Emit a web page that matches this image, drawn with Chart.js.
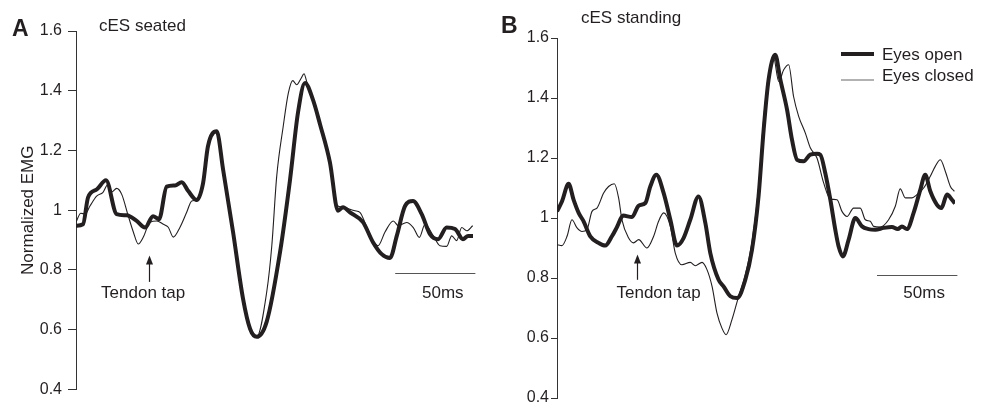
<!DOCTYPE html>
<html>
<head>
<meta charset="utf-8">
<script src="https://cdn.jsdelivr.net/npm/chart.js@4.4.1/dist/chart.umd.min.js"></script>
<style>
  html, body { margin: 0; padding: 0; background: #fff; width: 985px; height: 405px; overflow: hidden; }
  canvas { position: absolute; top: 0; }
</style>
</head>
<body>
<canvas id="chartA" width="480" height="405" style="left:0;width:480px;height:405px"></canvas>
<canvas id="chartB" width="505" height="420" style="left:480px;width:505px;height:420px"></canvas>
<script>
// time in ms after start of trace, values = normalized EMG
const seatedOpenTime = [0, 4.4, 7.6, 13.2, 18.9, 25.6, 31.9, 38.2, 43.5, 48.5, 52.3, 57.1, 62.3, 66.6, 70.7, 76, 80, 83.1, 88.6, 92.6, 98.9, 105.2, 109.6, 113.8, 120.1, 128.5, 134.8, 139.8, 144.2, 149.2, 153.7, 159.9, 165, 168.1, 172.5, 180.7, 187, 192.5, 197.7, 202, 207.2, 212.2, 217.7, 222.9, 228, 233.4, 238.7, 243.7, 246.9, 250];
const seatedOpen = [0.948, 0.953, 1.043, 1.07, 1.10, 0.987, 0.983, 0.964, 0.942, 0.98, 0.97, 1.079, 1.083, 1.094, 1.064, 1.034, 1.09, 1.214, 1.264, 1.137, 0.927, 0.703, 0.603, 0.576, 0.627, 0.86, 1.103, 1.327, 1.426, 1.37, 1.287, 1.16, 0.998, 1.01, 0.993, 0.96, 0.893, 0.853, 0.84, 0.914, 1.014, 1.031, 0.987, 0.92, 0.903, 0.942, 0.937, 0.903, 0.914, 0.914];

const seatedClosedTime = [0, 3, 5.7, 8.8, 13, 17, 20.2, 22.5, 25.6, 28.8, 32.9, 36.1, 39.2, 42.4, 46.6, 50.8, 55, 58.1, 61.3, 65.5, 69.7, 72.9, 76, 80, 83.1, 88.6, 92.6, 98.9, 105.2, 109.6, 113.8, 120.1, 123.3, 126.4, 130.5, 133.7, 136.5, 139, 141.6, 143.6, 145.3, 149.2, 153.7, 159.9, 164.2, 168.1, 175.7, 178.8, 182.6, 187, 190.2, 194.6, 199.8, 203, 208.2, 212.4, 216.2, 219.8, 225, 229.2, 233.4, 236.6, 239.7, 242.9, 246, 249.8];
const seatedClosed = [0.96, 0.99, 0.987, 1.014, 1.047, 1.06, 1.087, 1.061, 1.073, 1.053, 0.981, 0.927, 0.887, 0.91, 0.96, 0.964, 0.953, 0.943, 0.91, 0.943, 0.993, 1.031, 1.034, 1.09, 1.214, 1.264, 1.137, 0.93, 0.71, 0.605, 0.576, 0.726, 0.881, 1.114, 1.281, 1.392, 1.434, 1.42, 1.44, 1.457, 1.43, 1.37, 1.287, 1.16, 1.017, 1.01, 0.998, 0.993, 0.95, 0.898, 0.881, 0.927, 0.964, 0.948, 0.959, 0.942, 0.909, 0.953, 0.914, 0.881, 0.879, 0.914, 0.898, 0.942, 0.931, 0.948];

const standingOpenTime = [0, 3.1, 7.3, 10.4, 13.6, 16.7, 20.9, 26.1, 30.3, 34.5, 37.7, 41.5, 47.1, 51.3, 55.5, 58.6, 62.4, 67, 71.2, 75.4, 79.5, 83.7, 88.9, 93.2, 96.3, 101.5, 104.6, 108.9, 113.1, 118.3, 122.5, 126.6, 129.8, 132.9, 137.1, 140.3, 144.5, 147.6, 150.8, 154.9, 159.1, 163.3, 165.4, 168.5, 171.7, 174.8, 176.9, 179.6, 183.2, 187.4, 191.6, 195.7, 199.9, 205.2, 210.4, 214, 216.7, 219.8, 224, 228.2, 231.3, 234.5, 238.7, 241.4, 245, 248.1, 250];
const standingOpen = [1.022, 1.055, 1.114, 1.061, 1.017, 0.989, 0.939, 0.917, 0.908, 0.939, 0.97, 1.008, 1.003, 1.041, 1.05, 1.105, 1.144, 1.083, 0.994, 0.908, 0.933, 0.994, 1.072, 0.983, 0.883, 0.794, 0.772, 0.739, 0.733, 0.794, 0.894, 1.072, 1.294, 1.461, 1.544, 1.461, 1.361, 1.261, 1.194, 1.189, 1.211, 1.214, 1.211, 1.15, 1.061, 0.961, 0.905, 0.872, 0.928, 1.0, 0.972, 0.963, 0.961, 0.967, 0.97, 0.963, 0.972, 0.963, 1.017, 1.094, 1.144, 1.089, 1.044, 1.033, 1.078, 1.061, 1.048];

const standingClosedTime = [0, 3.1, 6.3, 9.4, 12.6, 15.7, 18.8, 22, 25.1, 29.3, 32.4, 36, 38.7, 40.8, 45, 48.1, 51.3, 56.5, 60.7, 63.8, 67, 71.2, 74.3, 78.5, 83.7, 86.9, 91.1, 94.2, 97.4, 100.5, 103.6, 106.2, 109.9, 114.1, 118.3, 122.5, 126.6, 129.8, 132.9, 136.1, 139.3, 142.4, 145.5, 148.6, 151.8, 156, 159.1, 163.3, 167.5, 171.7, 175.9, 179, 182.2, 186.3, 190.5, 193.7, 196.8, 198.9, 203.1, 208.3, 212.5, 215.6, 218.8, 223, 226.1, 230.3, 234.5, 237.6, 240.8, 243.9, 247.1, 249.6];
const standingClosed = [0.911, 0.908, 0.939, 0.994, 0.967, 0.955, 0.961, 1.022, 1.033, 1.083, 1.105, 1.114, 1.067, 0.994, 0.933, 0.917, 0.928, 0.9, 0.939, 0.989, 1.017, 0.972, 0.883, 0.844, 0.852, 0.841, 0.852, 0.828, 0.772, 0.683, 0.633, 0.611, 0.661, 0.739, 0.81, 0.92, 1.1, 1.328, 1.472, 1.533, 1.455, 1.494, 1.511, 1.405, 1.339, 1.283, 1.234, 1.2, 1.117, 1.063, 1.061, 1.022, 1.005, 1.033, 1.033, 0.994, 0.989, 0.972, 0.97, 0.994, 1.039, 1.097, 1.067, 1.067, 1.078, 1.1, 1.139, 1.172, 1.194, 1.156, 1.105, 1.089];

const seriesNames = ['Eyes open', 'Eyes closed'];
const yTicks = [0.4, 0.6, 0.8, 1.0, 1.2, 1.4, 1.6];

const INK = '#231f20';
const FONT = '"Liberation Sans", Arial, Helvetica, sans-serif';

function toPoints(times, vals) {
  return times.map((t, i) => ({ x: t, y: vals[i] }));
}

function makeDatasets(openT, openV, closedT, closedV) {
  // thick trace first so it is drawn on top
  return [
    { label: seriesNames[0], data: toPoints(openT, openV), borderColor: INK, borderWidth: 4, pointRadius: 0, cubicInterpolationMode: 'monotone' },
    { label: seriesNames[1], data: toPoints(closedT, closedV), borderColor: INK, borderWidth: 1.1, pointRadius: 0, cubicInterpolationMode: 'monotone' }
  ];
}

// panel letter, title, tendon tap arrow and 50 ms scale bar
const panelNotes = {
  id: 'panelNotes',
  afterDatasetsDraw(chart, args, o) {
    const ctx = chart.ctx;
    const xs = chart.scales.x, ys = chart.scales.y;
    ctx.save();
    ctx.fillStyle = INK;
    ctx.strokeStyle = INK;
    ctx.textAlign = 'left';
    ctx.textBaseline = 'alphabetic';

    ctx.font = 'bold 23px ' + FONT;
    ctx.fillText(o.letter, o.letterX, o.letterY);
    ctx.font = '17px ' + FONT;
    ctx.fillText(o.title, o.titleX, o.titleY);

    // arrow
    const ax = Math.round(xs.getPixelForValue(o.tapAt)) + 0.5;
    const tip = ys.getPixelForValue(o.tapTip);
    const base = ys.getPixelForValue(o.tapBase);
    ctx.lineWidth = 1.2;
    ctx.beginPath();
    ctx.moveTo(ax, base);
    ctx.lineTo(ax, tip + 6);
    ctx.stroke();
    ctx.beginPath();
    ctx.moveTo(ax, tip);
    ctx.lineTo(ax - 3.5, tip + 9);
    ctx.lineTo(ax + 3.5, tip + 9);
    ctx.closePath();
    ctx.fill();

    ctx.textAlign = 'center';
    ctx.textBaseline = 'middle';
    ctx.fillText('Tendon tap', xs.getPixelForValue(o.tapTextAt), ys.getPixelForValue(o.tapTextY));

    // scale bar
    const by = Math.round(ys.getPixelForValue(o.barY)) + 0.5;
    ctx.lineWidth = 1;
    ctx.strokeStyle = '#555';
    ctx.beginPath();
    ctx.moveTo(xs.getPixelForValue(o.barFrom), by);
    ctx.lineTo(xs.getPixelForValue(o.barTo), by);
    ctx.stroke();
    ctx.fillText('50ms', xs.getPixelForValue(o.barTextAt), ys.getPixelForValue(o.barTextY));
    ctx.restore();
  }
};

// line-sample legend, only on panel B
const lineLegend = {
  id: 'lineLegend',
  afterDatasetsDraw(chart, args, o) {
    if (!o.show) return;
    const ctx = chart.ctx;
    ctx.save();
    ctx.font = '17px ' + FONT;
    ctx.textAlign = 'left';
    ctx.textBaseline = 'alphabetic';
    chart.data.datasets.forEach((ds, i) => {
      const ly = o.lineY[i];
      ctx.strokeStyle = i === 0 ? ds.borderColor : '#666';
      ctx.lineWidth = ds.borderWidth;
      ctx.beginPath();
      ctx.moveTo(o.x0, ly);
      ctx.lineTo(o.x1, ly);
      ctx.stroke();
      ctx.fillStyle = INK;
      ctx.fillText(ds.label, o.textX, o.textY[i]);
    });
    ctx.restore();
  }
};

function makeChart(id, datasets, cfg) {
  return new Chart(document.getElementById(id), {
    type: 'line',
    data: { datasets: datasets },
    plugins: [panelNotes, lineLegend],
    options: {
      responsive: false,
      animation: false,
      events: [],
      layout: { padding: cfg.padding },
      scales: {
        x: { type: 'linear', min: 0, max: 250, display: false },
        y: {
          min: 0.4, max: 1.6,
          afterFit: s => { s.width = cfg.axisWidth; },
          afterBuildTicks: s => { s.ticks = yTicks.map(v => ({ value: v })); },
          ticks: {
            color: INK,
            font: { family: FONT, size: 16 },
            padding: cfg.tickPad,
            callback: v => (Math.abs(v - 1) < 1e-9 ? '1' : v.toFixed(1))
          },
          grid: { drawOnChartArea: false, drawTicks: true, tickLength: cfg.tickLen, color: '#333', lineWidth: 1 },
          border: { display: true, color: '#333', width: 1 },
          title: {
            display: !!cfg.yTitle,
            text: cfg.yTitle || '',
            color: INK,
            font: { family: FONT, size: 17 },
            padding: { top: 4, bottom: 0 }
          }
        }
      },
      plugins: {
        legend: { display: false },
        tooltip: { enabled: false },
        panelNotes: cfg.notes,
        lineLegend: cfg.legend
      }
    }
  });
}

makeChart('chartA', makeDatasets(seatedOpenTime, seatedOpen, seatedClosedTime, seatedClosed), {
  padding: { left: 14, top: 31, right: 7, bottom: 13 },
  axisWidth: 62,
  tickPad: 6,
  tickLen: 8,
  yTitle: 'Normalized EMG',
  notes: {
    letter: 'A', letterX: 12, letterY: 36,
    title: 'cES seated', titleX: 99, titleY: 31,
    tapAt: 46, tapTip: 0.848, tapBase: 0.76, tapTextAt: 42.3, tapTextY: 0.723,
    barFrom: 201, barTo: 251.5, barY: 0.79, barTextAt: 231, barTextY: 0.723
  },
  legend: { show: false }
});

makeChart('chartB', makeDatasets(standingOpenTime, standingOpen, standingClosedTime, standingClosed), {
  padding: { left: 0, top: 38, right: 30, bottom: 22 },
  axisWidth: 77,
  tickPad: 2,
  tickLen: 6,
  yTitle: null,
  notes: {
    letter: 'B', letterX: 21, letterY: 33,
    title: 'cES standing', titleX: 101, titleY: 23,
    tapAt: 50.2, tapTip: 0.878, tapBase: 0.794, tapTextAt: 63.8, tapTextY: 0.75,
    barFrom: 201, barTo: 251.5, barY: 0.811, barTextAt: 230.6, barTextY: 0.748
  },
  legend: { show: true, x0: 361, x1: 394, lineY: [54, 80], textX: 402, textY: [59.5, 81] }
});
</script>
</body>
</html>
